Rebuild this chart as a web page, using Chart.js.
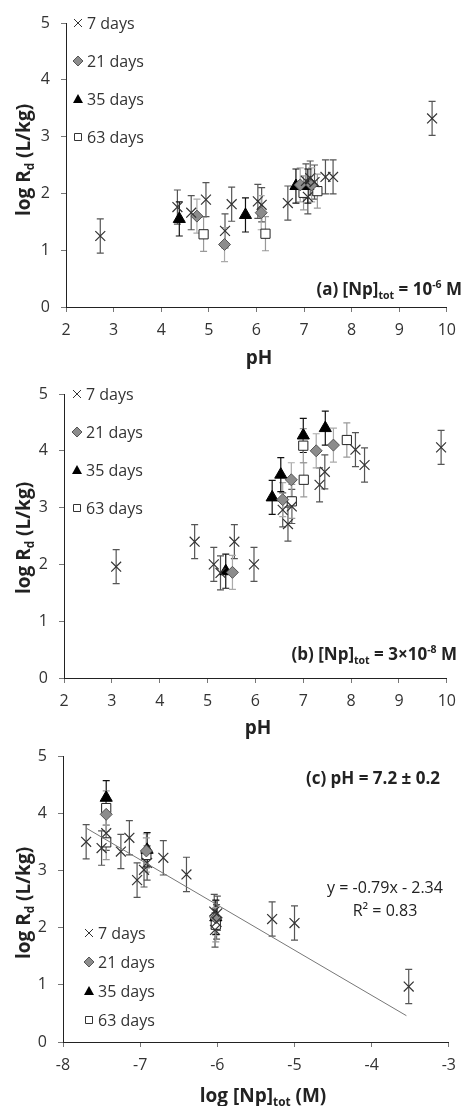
<!DOCTYPE html>
<html>
<head>
<meta charset="utf-8">
<script src="https://cdn.jsdelivr.net/npm/chart.js@4/dist/chart.umd.min.js"></script>
<style>
  body { margin: 0; background: #fff; }
  #wrap { position: relative; width: 465px; height: 1106px; font-family: "Open Sans", sans-serif; color: #222; }
  canvas { position: absolute; left: 0; }
  .lbl { position: absolute; white-space: nowrap; line-height: 1; }
  .bold { font-weight: bold; }
  .ytitle { font-size: 19px; font-weight: bold; transform: translate(-50%, -50%) rotate(-90deg); }
  .xtitle { font-size: 19px; font-weight: bold; transform: translate(-50%, -50%); }
  sub, sup { font-size: 62%; line-height: 0; }
</style>
</head>
<body>
<div id="wrap">
  <canvas id="chartA" width="465" height="365" style="top:0"></canvas>
  <canvas id="chartB" width="465" height="365" style="top:365px"></canvas>
  <canvas id="chartC" width="465" height="376" style="top:730px"></canvas>

  <div class="lbl ytitle" style="left:23px; top:160px">log R<sub>d</sub> (L/kg)</div>
  <div class="lbl xtitle" style="left:259px; top:357px">pH</div>
  <div class="lbl bold" style="right:3px; top:280px; font-size:17px">(a) [Np]<sub>tot</sub> = 10<sup>-6</sup> M</div>

  <div class="lbl ytitle" style="left:23px; top:538px">log R<sub>d</sub> (L/kg)</div>
  <div class="lbl xtitle" style="left:258px; top:727px">pH</div>
  <div class="lbl bold" style="right:8px; top:645px; font-size:17px">(b) [Np]<sub>tot</sub> = 3×10<sup>-8</sup> M</div>

  <div class="lbl ytitle" style="left:23px; top:903px">log R<sub>d</sub> (L/kg)</div>
  <div class="lbl xtitle" style="left:263px; top:1095px">log [Np]<sub>tot</sub> (M)</div>
  <div class="lbl bold" style="right:25px; top:769px; font-size:17px">(c) pH = 7.2 ± 0.2</div>
  <div class="lbl" style="left:385px; top:879px; font-size:16px; transform:translateX(-50%)">y = -0.79x - 2.34</div>
  <div class="lbl" style="left:385px; top:902px; font-size:16px; transform:translateX(-50%)">R² = 0.83</div>
</div>
<script>
// series labels
const seriesNames = ['7 days', '21 days', '35 days', '63 days']
// half-width of the error bars, log units
const errLog = 0.3

// (a) [Np]tot = 1e-6 M : pH vs log Rd
const phA7 = [2.72, 4.34, 4.63, 4.94, 5.34, 5.48, 6.03, 6.11, 6.66, 7.04, 7.08, 7.13, 7.22, 7.45, 7.61, 9.69]
const rdA7 = [1.25, 1.76, 1.66, 1.89, 1.34, 1.81, 1.86, 1.80, 1.83, 2.22, 1.94, 2.27, 2.20, 2.29, 2.29, 3.32]
const phA21 = [4.75, 5.33, 6.10, 6.92, 7.16]
const rdA21 = [1.60, 1.10, 1.66, 2.15, 2.15]
const phA35 = [4.38, 5.77, 6.83, 7.08]
const rdA35 = [1.55, 1.62, 2.13, 2.13]
const phA63 = [4.89, 6.19, 6.99, 7.28]
const rdA63 = [1.28, 1.29, 2.01, 2.04]

// (b) [Np]tot = 3e-8 M
const phB7 = [3.09, 4.73, 5.13, 5.27, 5.56, 5.97, 6.57, 6.68, 6.76, 7.34, 7.45, 8.09, 8.28, 9.88]
const rdB7 = [1.96, 2.40, 2.00, 1.85, 2.40, 2.00, 2.96, 2.71, 3.02, 3.40, 3.63, 4.02, 3.75, 4.06]
const phB21 = [5.52, 6.57, 6.75, 7.27, 7.63]
const rdB21 = [1.86, 3.14, 3.49, 4.00, 4.10]
const phB35 = [5.38, 6.35, 6.53, 7.00, 7.46]
const rdB35 = [1.88, 3.18, 3.58, 4.27, 4.40]
const phB63 = [6.76, 7.00, 7.01, 7.91]
const rdB63 = [3.11, 4.09, 3.49, 4.19]

// (c) pH = 7.2 : log [Np]tot vs log Rd
const npC7 = [-7.70, -7.50, -7.44, -7.25, -7.14, -7.04, -6.95, -6.91, -6.70, -6.40, -6.04, -6.03, -6.01, -6.00, -5.29, -5.00, -3.52]
const rdC7 = [3.50, 3.39, 3.65, 3.33, 3.57, 2.83, 3.01, 3.13, 3.22, 2.93, 2.28, 1.96, 2.10, 2.25, 2.15, 2.08, 0.97]
const npC21 = [-7.44, -6.92, -6.02]
const rdC21 = [3.98, 3.34, 2.17]
const npC35 = [-7.44, -6.91, -6.02]
const rdC35 = [4.27, 3.36, 2.18]
const npC63 = [-7.44, -7.44, -6.92, -6.02]
const rdC63 = [4.09, 3.49, 3.27, 2.05]
// regression line end points, y = -0.79x - 2.34
const trendX = [-7.70, -3.55]
const trendY = [3.74, 0.46]

const tickFont = { family: 'Open Sans', size: 16 }

function pts(xs, ys) {
  return xs.map((x, i) => ({ x: x, y: ys[i] }))
}

function seriesSets(x7, y7, x21, y21, x35, y35, x63, y63) {
  return [
    { label: seriesNames[0], data: pts(x7, y7), pointStyle: 'crossRot', pointRadius: 7,
      borderColor: '#333', borderWidth: 1.2, errColor: '#555' },
    { label: seriesNames[1], data: pts(x21, y21), pointStyle: 'rectRot', pointRadius: 6,
      backgroundColor: '#8c8c8c', borderColor: '#555', borderWidth: 1, errColor: '#aaa' },
    { label: seriesNames[2], data: pts(x35, y35), pointStyle: 'triangle', pointRadius: 7,
      backgroundColor: '#000', borderColor: '#000', borderWidth: 1, errColor: '#111' },
    { label: seriesNames[3], data: pts(x63, y63), pointStyle: 'rect', pointRadius: 6.5,
      backgroundColor: '#fff', borderColor: '#222', borderWidth: 1, errColor: '#999' }
  ]
}

// error bars drawn under the markers
const errorBars = {
  id: 'errorBars',
  beforeDatasetsDraw(chart) {
    const ctx = chart.ctx
    const ys = chart.scales.y
    chart.data.datasets.forEach((ds, i) => {
      if (!ds.errColor) return
      const meta = chart.getDatasetMeta(i)
      ctx.save()
      ctx.strokeStyle = ds.errColor
      ctx.lineWidth = 1.2
      meta.data.forEach((pt, j) => {
        const v = ds.data[j].y
        const top = ys.getPixelForValue(v + errLog)
        const bot = ys.getPixelForValue(v - errLog)
        ctx.beginPath()
        ctx.moveTo(pt.x, top); ctx.lineTo(pt.x, bot)
        ctx.moveTo(pt.x - 3.5, top); ctx.lineTo(pt.x + 3.5, top)
        ctx.moveTo(pt.x - 3.5, bot); ctx.lineTo(pt.x + 3.5, bot)
        ctx.stroke()
      })
      ctx.restore()
    })
  }
}

// small legend inside the plot, one entry per row
const sideLegend = {
  id: 'sideLegend',
  afterDraw(chart, args, opts) {
    if (!opts || opts.x === undefined) return
    const ctx = chart.ctx
    const area = chart.chartArea
    ctx.save()
    ctx.font = '16px "Open Sans"'
    ctx.textBaseline = 'middle'
    seriesNames.forEach((name, i) => {
      const mx = area.left + opts.x
      const my = area.top + opts.y + i * opts.gap
      ctx.lineWidth = 1
      ctx.beginPath()
      if (i === 0) {
        ctx.strokeStyle = '#333'
        ctx.moveTo(mx - 4, my - 4); ctx.lineTo(mx + 4, my + 4)
        ctx.moveTo(mx - 4, my + 4); ctx.lineTo(mx + 4, my - 4)
        ctx.stroke()
      } else if (i === 1) {
        ctx.fillStyle = '#8c8c8c'; ctx.strokeStyle = '#555'
        ctx.moveTo(mx, my - 5); ctx.lineTo(mx + 5, my); ctx.lineTo(mx, my + 5); ctx.lineTo(mx - 5, my)
        ctx.closePath(); ctx.fill(); ctx.stroke()
      } else if (i === 2) {
        ctx.fillStyle = '#000'
        ctx.moveTo(mx, my - 5); ctx.lineTo(mx + 5, my + 4); ctx.lineTo(mx - 5, my + 4)
        ctx.closePath(); ctx.fill()
      } else {
        ctx.fillStyle = '#fff'; ctx.strokeStyle = '#333'
        ctx.rect(mx - 3.5, my - 3.5, 7, 7)
        ctx.fill(); ctx.stroke()
      }
      ctx.fillStyle = '#333'
      ctx.fillText(name, mx + 9, my + 1)
    })
    ctx.restore()
  }
}

function panelOptions(p) {
  return {
    responsive: false,
    animation: false,
    layout: { padding: { top: p.top, right: p.right, left: 0, bottom: 0 } },
    plugins: {
      legend: { display: false },
      tooltip: { enabled: false },
      sideLegend: p.legend
    },
    scales: {
      x: {
        type: 'linear', min: p.xMin, max: p.xMax,
        afterFit: s => { s.height = p.h - p.bottom },
        ticks: { stepSize: 1, color: '#333', font: tickFont, padding: 9, maxRotation: 0 },
        grid: { drawOnChartArea: false, tickLength: 5, color: '#777' },
        border: { color: '#222', width: 1 }
      },
      y: {
        type: 'linear', min: 0, max: 5,
        afterFit: s => { s.width = p.left },
        ticks: { stepSize: 1, color: '#333', font: tickFont, padding: 11 },
        grid: { drawOnChartArea: false, tickLength: 5, color: '#777' },
        border: { color: '#222', width: 1 }
      }
    }
  }
}

const chartA = new Chart(document.querySelector('#chartA'), {
  type: 'scatter',
  data: { datasets: seriesSets(phA7, rdA7, phA21, rdA21, phA35, rdA35, phA63, rdA63) },
  options: panelOptions({ h: 365, top: 23, bottom: 307, left: 66, right: 12, xMin: 2, xMax: 10,
    legend: { x: 12, y: 0, gap: 38 } }),
  plugins: [errorBars, sideLegend]
})

const chartB = new Chart(document.querySelector('#chartB'), {
  type: 'scatter',
  data: { datasets: seriesSets(phB7, rdB7, phB21, rdB21, phB35, rdB35, phB63, rdB63) },
  options: panelOptions({ h: 365, top: 29, bottom: 313, left: 64, right: 13, xMin: 2, xMax: 10,
    legend: { x: 13, y: 0, gap: 38 } }),
  plugins: [errorBars, sideLegend]
})

const trendSet = {
  type: 'line', label: 'trend', data: pts(trendX, trendY),
  borderColor: '#777', borderWidth: 1, pointRadius: 0, fill: false
}

const chartC = new Chart(document.querySelector('#chartC'), {
  type: 'scatter',
  data: { datasets: [trendSet].concat(seriesSets(npC7, rdC7, npC21, rdC21, npC35, rdC35, npC63, rdC63)) },
  options: panelOptions({ h: 376, top: 26, bottom: 312, left: 63, right: 10, xMin: -8, xMax: -3,
    legend: { x: 26, y: 177, gap: 29 } }),
  plugins: [errorBars, sideLegend]
})
</script>
</body>
</html>
